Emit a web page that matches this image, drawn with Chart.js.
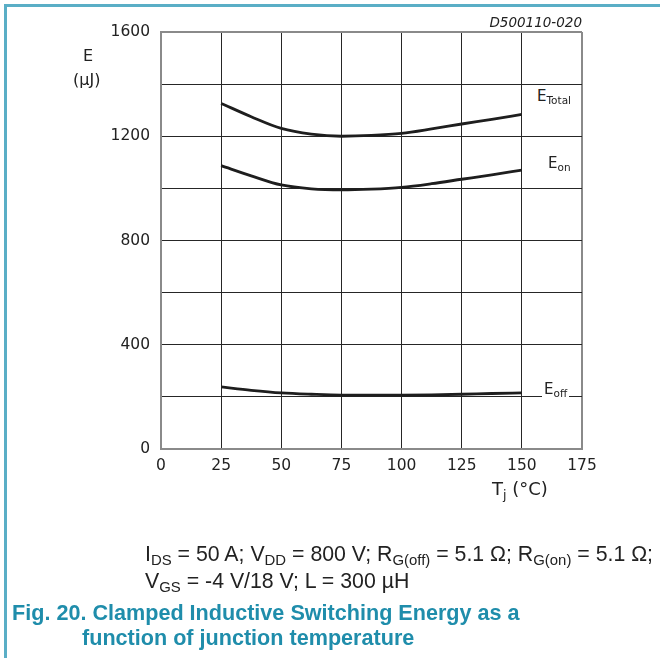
<!DOCTYPE html>
<html>
<head>
<meta charset="utf-8">
<script src="https://cdn.jsdelivr.net/npm/chart.js@4/dist/chart.umd.min.js"></script>
<style>
  html, body { margin: 0; padding: 0; background: #fff; }
  #wrap { position: relative; width: 660px; height: 658px; overflow: hidden; }
  #frame { position: absolute; left: 4px; top: 4px; right: -10px; bottom: -10px;
           border-top: 3px solid #5aaec6; border-left: 3px solid #5aaec6; }
  canvas { position: absolute; left: 0; top: 0; }
  .t { position: absolute; white-space: nowrap; color: #222; font-family: "DejaVu Sans", sans-serif; }
  .t sub { font-size: 70%; vertical-align: baseline; position: relative; top: 0.3em; }
  .lbl { background: #fff; padding: 0 2px; }
  #note { font-family: "Liberation Sans", Arial, sans-serif; font-size: 21.3px; line-height: 25px; left: 145px; top: 542px; }
  #cap { font-family: "Liberation Sans", sans-serif; font-weight: bold;
         font-size: 21.6px; line-height: 25px; color: #1f8dab; left: 12px; top: 600px; }
</style>
</head>
<body>
<div id="wrap">
  <canvas id="chart" width="660" height="658"></canvas>
  <div id="frame"></div>
  <div class="t" style="left:83px;top:46px;font-size:16px;">E</div>
  <div class="t" style="left:73px;top:70px;font-size:16px;">(µJ)</div>
  <div class="t" style="right:78px;top:14px;font-size:13.5px;font-style:italic;">D500110-020</div>
  <div class="t" style="left:492px;top:478px;font-size:18px;">T<sub>j</sub> (°C)</div>
  <div class="t lbl" style="left:535px;top:87px;font-size:15px;">E<sub>Total</sub></div>
  <div class="t lbl" style="left:546px;top:154px;font-size:15px;">E<sub>on</sub></div>
  <div class="t lbl" style="left:542px;top:380px;font-size:15px;">E<sub>off</sub></div>
  <div class="t" id="note">I<sub>DS</sub> = 50 A; V<sub>DD</sub> = 800 V; R<sub>G(off)</sub> = 5.1 Ω; R<sub>G(on)</sub> = 5.1 Ω;<br>V<sub>GS</sub> = -4 V/18 V; L = 300 µH</div>
  <div class="t" id="cap">Fig. 20. Clamped Inductive Switching Energy as a<br><span style="padding-left:70px">function of junction temperature</span></div>
</div>
<script>
// junction temperature (°C)
const temps = [25, 37.5, 50, 62.5, 75, 87.5, 100, 112.5, 125, 137.5, 150];
// switching energies (µJ)
const eTotal = [1326, 1275, 1230, 1208, 1200, 1203, 1211, 1228, 1247, 1265, 1284];
const eOn    = [1087, 1048, 1013, 998, 994, 997, 1004, 1018, 1035, 1052, 1070];
const eOff   = [238, 225, 215, 210, 207, 207, 207, 208, 210, 213, 215];

const xTicks = [0, 25, 50, 75, 100, 125, 150, 175];
const yLabelled = [0, 400, 800, 1200, 1600];

function toPoints(ys) {
  return temps.map((t, i) => ({ x: t, y: ys[i] }));
}

function curve(label, ys) {
  return {
    label,
    data: toPoints(ys),
    borderColor: '#1e1e1e',
    borderWidth: 2.8,
    pointRadius: 0,
    cubicInterpolationMode: 'monotone',
    fill: false
  };
}

const edgeGrid = (max) => ({
  color: ctx => ctx.tick && ctx.tick.value === max ? '#8a8a8a' : '#262626',
  lineWidth: ctx => ctx.tick && ctx.tick.value === max ? 2 : 1,
  drawTicks: false
});

new Chart(document.getElementById('chart'), {
  type: 'line',
  data: {
    datasets: [curve('ETotal', eTotal), curve('Eon', eOn), curve('Eoff', eOff)]
  },
  options: {
    responsive: false,
    animation: false,
    layout: { padding: { top: 32, right: 78, left: 0, bottom: 0 } },
    plugins: { legend: { display: false }, tooltip: { enabled: false } },
    scales: {
      x: {
        type: 'linear',
        min: 0, max: 175,
        afterBuildTicks: s => { s.ticks = xTicks.map(v => ({ value: v })); },
        grid: edgeGrid(175),
        border: { color: '#8a8a8a', width: 2 },
        ticks: { color: '#222', padding: 8, font: { family: 'DejaVu Sans', size: 15.5 } },
        afterFit: s => { s.height = 209; }
      },
      y: {
        min: 0, max: 1600,
        ticks: {
          stepSize: 200,
          color: '#222', padding: 11,
          font: { family: 'DejaVu Sans', size: 15.5 },
          callback: v => yLabelled.includes(v) ? v : ''
        },
        grid: edgeGrid(1600),
        border: { color: '#8a8a8a', width: 2 },
        afterFit: s => { s.width = 161; }
      }
    }
  }
});
</script>
</body>
</html>
